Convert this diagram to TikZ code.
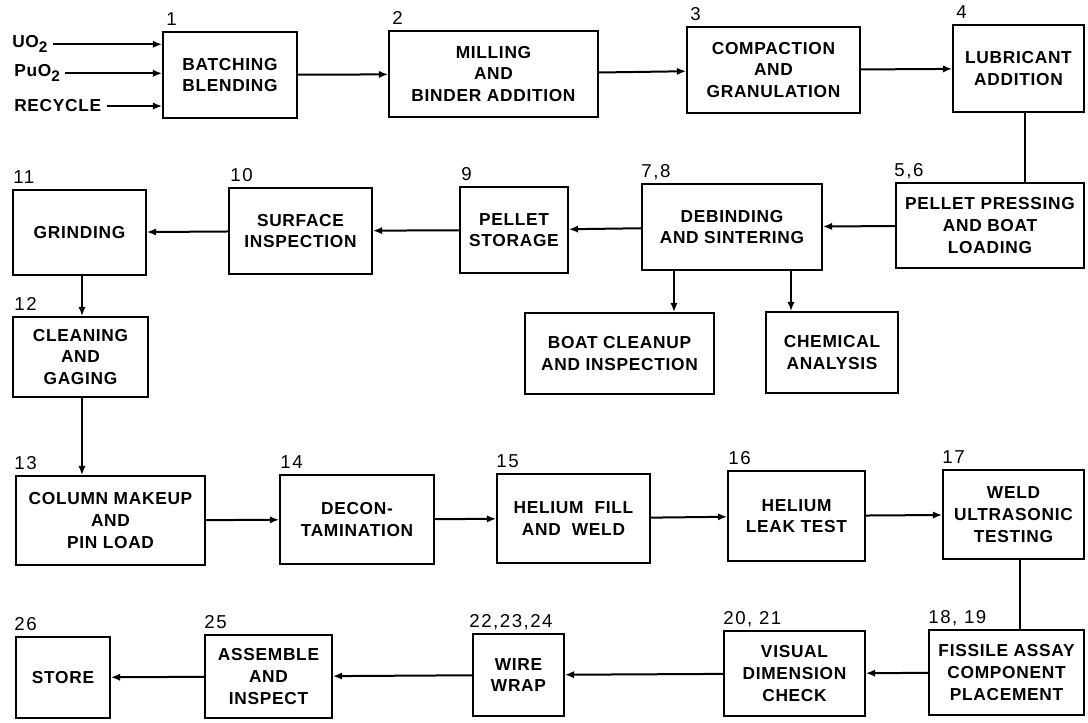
\documentclass[tikz,border=0pt]{standalone}
\usepackage{fontspec}
\setmainfont{Liberation Sans}
\newfontfamily\boxfont{Liberation Sans}[LetterSpace=4]
\newfontfamily\numfont{Liberation Sans}[LetterSpace=8]
\usetikzlibrary{arrows.meta, calc}
\newcommand{\lowtwo}{\raisebox{-3.5pt}{\fontsize{11.5}{12}\selectfont 2}}
\tikzstyle{stage} = [rectangle, draw=black, line width=1.2pt, inner sep=1pt,
                     align=center, font=\boxfont\bfseries\fontsize{13}{16.3}\selectfont]
\tikzstyle{num} = [anchor=base west, inner sep=0pt, font=\numfont\fontsize{14}{16}\selectfont]
\tikzstyle{feed} = [anchor=base west, inner sep=0pt, font=\boxfont\bfseries\fontsize{13}{16}\selectfont]
\tikzstyle{arrow} = [-{Latex[length=7pt, width=5.5pt]}, line width=1.5pt]
\tikzstyle{link} = [line width=1.5pt]

\begin{document}
\begin{tikzpicture}[x=0.75pt, y=-0.75pt]
\useasboundingbox (0,0) rectangle (1088,723);

% row 1
\node[feed] (uo) at (12,48) {UO\lowtwo};
\node[feed] (puo) at (14,77) {PuO\lowtwo};
\node[feed] (rec) at (14,112) {RECYCLE};
\node[stage, minimum width=100.5pt, minimum height=64.5pt] (b1) at (230,75) {BATCHING\\BLENDING};
\node[stage, minimum width=156.75pt, minimum height=64.5pt] (b2) at (493.5,74) {MILLING\\AND\\BINDER ADDITION};
\node[stage, minimum width=129.75pt, minimum height=64.5pt] (b3) at (773.5,70) {COMPACTION\\AND\\GRANULATION};
\node[stage, minimum width=98.25pt, minimum height=65.25pt] (b4) at (1018.5,68.5) {LUBRICANT\\ADDITION};

% row 2
\node[stage, minimum width=141pt, minimum height=63.75pt] (b56) at (990,225.5) {PELLET PRESSING\\AND BOAT\\LOADING};
\node[stage, minimum width=135pt, minimum height=64.5pt] (b78) at (732,227) {DEBINDING\\AND SINTERING};
\node[stage, minimum width=81pt, minimum height=64.5pt] (b9) at (514,230) {PELLET\\STORAGE};
\node[stage, minimum width=107.25pt, minimum height=64.5pt] (b10) at (300.5,231) {SURFACE\\INSPECTION};
\node[stage, minimum width=99.75pt, minimum height=63.75pt] (b11) at (79.5,232.5) {GRINDING};
\node[stage, minimum width=101.25pt, minimum height=60pt] (b12) at (80.5,357) {CLEANING\\AND\\GAGING};
\node[stage, minimum width=141.75pt, minimum height=60.75pt] (boat) at (619.5,353.5) {BOAT CLEANUP\\AND INSPECTION};
\node[stage, minimum width=99pt, minimum height=60.75pt] (chem) at (832,352.5) {CHEMICAL\\ANALYSIS};

% row 3
\node[stage, minimum width=141.75pt, minimum height=66.75pt] (b13) at (110.5,520.5) {COLUMN MAKEUP\\AND\\PIN LOAD};
\node[stage, minimum width=115.5pt, minimum height=66.75pt] (b14) at (357,519.5) {DECON-\\TAMINATION};
\node[stage, minimum width=114.75pt, minimum height=66.75pt] (b15) at (573.5,518.5) {HELIUM\ \ FILL\\AND\ \ WELD};
\node[stage, minimum width=102.75pt, minimum height=67.5pt] (b16) at (796.5,516) {HELIUM\\LEAK TEST};
\node[stage, minimum width=105.75pt, minimum height=66.75pt] (b17) at (1013.5,514.5) {WELD\\ULTRASONIC\\TESTING};

% row 4
\node[stage, minimum width=116.25pt, minimum height=63.75pt] (b1819) at (1006.5,672.5) {FISSILE ASSAY\\COMPONENT\\PLACEMENT};
\node[stage, minimum width=105.75pt, minimum height=63.75pt] (b2021) at (794.5,673.5) {VISUAL\\DIMENSION\\CHECK};
\node[stage, minimum width=68.25pt, minimum height=61.5pt] (b22) at (518.5,675) {WIRE\\WRAP};
\node[stage, minimum width=95.25pt, minimum height=62.25pt] (b25) at (268.5,676.5) {ASSEMBLE\\AND\\INSPECT};
\node[stage, minimum width=70.5pt, minimum height=60.75pt] (b26) at (63,677.5) {STORE};

% step numbers
\node[num] (n1) at ($(b1.north west)+(4,-6)$) {1};
\node[num] (n2) at ($(b2.north west)+(4,-6)$) {2};
\node[num] (n3) at ($(b3.north west)+(4,-6)$) {3};
\node[num] (n4) at ($(b4.north west)+(4,-6)$) {4};
\node[num] (n56) at ($(b56.north west)+(-1,-6)$) {5,6};
\node[num] (n78) at ($(b78.north west)+(0,-6)$) {7,8};
\node[num] (n9) at ($(b9.north west)+(2,-6)$) {9};
\node[num] (n10) at ($(b10.north west)+(2,-6)$) {10};
\node[num] (n11) at ($(b11.north west)+(1,-6)$) {11};
\node[num] (n12) at ($(b12.north west)+(2,-6)$) {12};
\node[num] (n13) at ($(b13.north west)+(-1,-6)$) {13};
\node[num] (n14) at ($(b14.north west)+(1,-6)$) {14};
\node[num] (n15) at ($(b15.north west)+(0,-6)$) {15};
\node[num] (n16) at ($(b16.north west)+(1,-6)$) {16};
\node[num] (n17) at ($(b17.north west)+(0,-6)$) {17};
\node[num] (n1819) at ($(b1819.north west)+(0,-6)$) {18, 19};
\node[num] (n2021) at ($(b2021.north west)+(0,-6)$) {20, 21};
\node[num] (n22) at ($(b22.north west)+(-3,-6)$) {22,23,24};
\node[num] (n25) at ($(b25.north west)+(0,-6)$) {25};
\node[num] (n26) at ($(b26.north west)+(-1,-6)$) {26};

% flow
\draw[arrow] ([xshift=4pt]uo.east) -- (uo.east -| b1.west);
\draw[arrow] ([xshift=4pt]puo.east) -- (puo.east -| b1.west);
\draw[arrow] ([xshift=4pt]rec.east) -- (rec.east -| b1.west);
\draw[arrow] (b1) -- (b2);
\draw[arrow] (b2) -- (b3);
\draw[arrow] (b3) -- (b4);
\draw[link] ([xshift=4.9pt]b4.south) -- ([xshift=4.9pt]b4.south |- b56.north);
\draw[arrow] (b56) -- (b78);
\draw[arrow] (b78) -- (b9);
\draw[arrow] (b9) -- (b10);
\draw[arrow] (b10) -- (b11);
\draw[arrow] ([xshift=-43.5pt]b78.south) -- ([xshift=-43.5pt]b78.south |- boat.north);
\draw[arrow] ([xshift=44.25pt]b78.south) -- ([xshift=44.25pt]b78.south |- chem.north);
\draw[arrow] ([xshift=1.9pt]b11.south) -- ([xshift=1.9pt]b11.south |- b12.north);
\draw[arrow] ([xshift=1.1pt]b12.south) -- ([xshift=1.1pt]b12.south |- b13.north);
\draw[arrow] (b13) -- (b14);
\draw[arrow] (b14) -- (b15);
\draw[arrow] (b15) -- (b16);
\draw[arrow] (b16) -- (b17);
\draw[link] ([xshift=4.9pt]b17.south) -- ([xshift=4.9pt]b17.south |- b1819.north);
\draw[arrow] (b1819) -- (b2021);
\draw[arrow] (b2021) -- (b22);
\draw[arrow] (b22) -- (b25);
\draw[arrow] (b25) -- (b26);
\end{tikzpicture}
\end{document}
